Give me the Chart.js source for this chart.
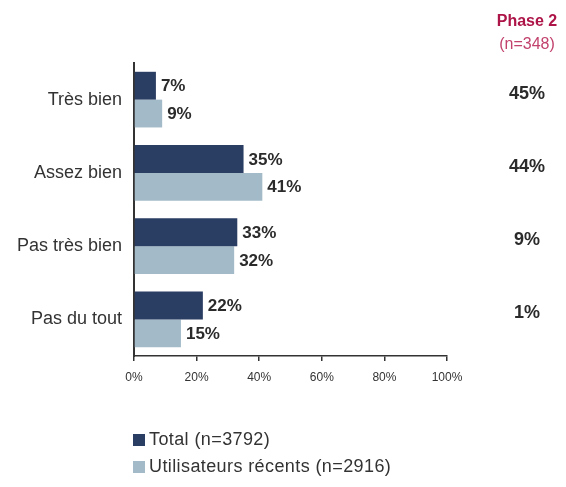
<!DOCTYPE html>
<html lang="fr">
<head>
<meta charset="utf-8">
<script src="https://cdn.jsdelivr.net/npm/chart.js@4/dist/chart.umd.min.js"></script>
<style>
  html, body { margin: 0; padding: 0; background: #fff; }
  #wrap { position: relative; width: 566px; height: 487px; }
  #legende {
    position: absolute; left: 133px; top: 426px;
    font-family: "Liberation Sans", Arial, sans-serif; font-size: 18px; color: #333;
    letter-spacing: 0.4px;
  }
  #legende div { height: 27px; line-height: 27px; white-space: nowrap; }
  #legende span.carre {
    display: inline-block; width: 12px; height: 12px; margin-right: 4px; vertical-align: -1px;
  }
</style>
</head>
<body>
<div id="wrap">
  <canvas id="satisfactionChart" width="566" height="487"></canvas>
  <div id="legende"></div>
</div>
<script>
const categories = ["Très bien", "Assez bien", "Pas très bien", "Pas du tout"];
const totalValues = [7, 35, 33, 22];
const recentValues = [9, 41, 32, 15];
const phase2Values = [45, 44, 9, 1];
const xTicks = [0, 20, 40, 60, 80, 100];

const seriesLabels = ["Total (n=3792)", "Utilisateurs récents (n=2916)"];
const seriesColors = ["#2a3d63", "#a3bbc9"];

// pourcentages en gras au bout des barres
const etiquettesBarres = {
  id: "etiquettesBarres",
  afterDatasetsDraw(chart) {
    const ctx = chart.ctx;
    ctx.save();
    ctx.font = "bold 17px 'Liberation Sans', Arial, sans-serif";
    ctx.fillStyle = "#2b2b2b";
    ctx.textBaseline = "middle";
    ctx.textAlign = "left";
    chart.data.datasets.forEach((ds, i) => {
      chart.getDatasetMeta(i).data.forEach((bar, j) => {
        ctx.fillText(ds.data[j] + "%", bar.x + 5, bar.y + 1);
      });
    });
    ctx.restore();
  },
};

// colonne "Phase 2" à droite
const colonnePhase2 = {
  id: "colonnePhase2",
  afterDraw(chart) {
    const ctx = chart.ctx;
    const yScale = chart.scales.y;
    const cx = 527;
    ctx.save();
    ctx.textAlign = "center";
    ctx.textBaseline = "middle";
    ctx.fillStyle = "#ad1448";
    ctx.font = "bold 16px 'Liberation Sans', Arial, sans-serif";
    ctx.fillText("Phase 2", cx, 22);
    ctx.fillStyle = "#c2426e";
    ctx.font = "16px 'Liberation Sans', Arial, sans-serif";
    ctx.fillText("(n=348)", cx, 45);
    ctx.fillStyle = "#2b2b2b";
    ctx.font = "bold 18px 'Liberation Sans', Arial, sans-serif";
    phase2Values.forEach((v, i) => {
      ctx.fillText(v + "%", cx, yScale.getPixelForValue(i) - 6);
    });
    ctx.restore();
  },
};

window.addEventListener("DOMContentLoaded", () => {
  const ctx = document.getElementById("satisfactionChart").getContext("2d");
  new Chart(ctx, {
    type: "bar",
    data: {
      labels: categories,
      datasets: [
        { label: seriesLabels[0], data: totalValues, backgroundColor: seriesColors[0] },
        { label: seriesLabels[1], data: recentValues, backgroundColor: seriesColors[1] },
      ],
    },
    options: {
      indexAxis: "y",
      responsive: false,
      animation: false,
      categoryPercentage: 0.76,
      barPercentage: 1,
      layout: { padding: { top: 63, right: 119, left: 0, bottom: 0 } },
      scales: {
        x: {
          min: 0,
          max: 100,
          afterBuildTicks: (scale) => {
            scale.ticks = xTicks.map((v) => ({ value: v }));
          },
          afterFit: (scale) => {
            scale.height = 131;
          },
          grid: { drawOnChartArea: false, drawTicks: true, tickLength: 5, color: "#333", lineWidth: 1.5 },
          border: { display: true, color: "#333", width: 1.5 },
          ticks: {
            padding: 9,
            color: "#333",
            font: { family: "'Liberation Sans', Arial, sans-serif", size: 12 },
            callback: (v) => v + "%",
          },
        },
        y: {
          afterFit: (scale) => {
            scale.width = 134;
          },
          grid: { display: false },
          border: { display: true, color: "#333", width: 2 },
          ticks: {
            padding: 4,
            color: "#333",
            font: { family: "'Liberation Sans', Arial, sans-serif", size: 18 },
          },
        },
      },
      plugins: {
        legend: { display: false },
        tooltip: { enabled: false },
      },
    },
    plugins: [etiquettesBarres, colonnePhase2],
  });

  // légende verticale sous le graphique
  const legende = document.getElementById("legende");
  seriesLabels.forEach((label, i) => {
    const ligne = document.createElement("div");
    const carre = document.createElement("span");
    carre.className = "carre";
    carre.style.background = seriesColors[i];
    ligne.appendChild(carre);
    ligne.appendChild(document.createTextNode(label));
    legende.appendChild(ligne);
  });
});
</script>
</body>
</html>
